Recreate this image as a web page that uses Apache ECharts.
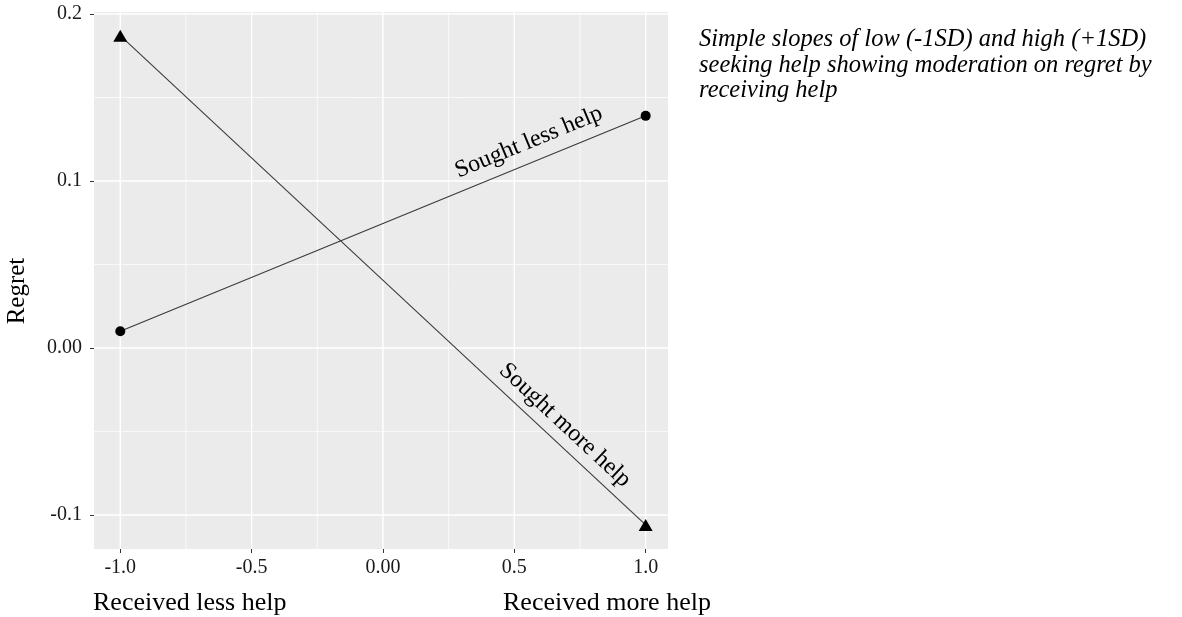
<!DOCTYPE html>
<html><head><meta charset="utf-8">
<script src="https://cdn.jsdelivr.net/npm/echarts@6/dist/echarts.min.js"></script>
<style>html,body{margin:0;padding:0;background:#fff}#c{width:1182px;height:617px}</style>
</head><body><div id="c"></div>
<script>
// ---- data ----
const received = [-1, 1];
const soughtLess = [0.010, 0.139];
const soughtMore = [0.187, -0.106];
const xTicks = [-1, -0.5, 0, 0.5, 1];
const xTickLabels = ['-1.0', '-0.5', '0.00', '0.5', '1.0'];
const yTicks = [-0.1, 0, 0.1, 0.2];
const yTickLabels = ['-0.1', '0.00', '0.1', '0.2'];
const xMinor = [-0.75, -0.25, 0.25, 0.75];
const yMinor = [-0.05, 0.05, 0.15];
const seriesNames = ['Sought less help', 'Sought more help'];
const yTitle = 'Regret';
const xLowLabel = 'Received less help';
const xHighLabel = 'Received more help';
const captionLines = [
  'Simple slopes of low (-1SD) and high (+1SD)',
  'seeking help showing moderation on regret by',
  'receiving help'
];

const SERIF = '"Liberation Serif", "Times New Roman", "DejaVu Serif", serif';
const X_MIN = -1.1, X_MAX = 1.085, Y_MIN = -0.1204, Y_MAX = 0.2012;
function fmt(ticks, labels) {
  return v => {
    for (let i = 0; i < ticks.length; i++) if (Math.abs(ticks[i] - v) < 1e-6) return labels[i];
    return '';
  };
}
function gridSeries(vals, vertical, width) {
  return vals.map(v => ({
    type: 'line', silent: true, z: 1, symbol: 'none', animation: false,
    data: vertical ? [[v, Y_MIN], [v, Y_MAX]] : [[X_MIN, v], [X_MAX, v]],
    lineStyle: {color: '#FFFFFF', width: width},
    emphasis: {disabled: true}, tooltip: {show: false}
  }));
}

const chart = echarts.init(document.getElementById('c'), null, {renderer: 'canvas'});
const option = {
  animation: false,
  backgroundColor: '#FFFFFF',
  grid: {left: 94, right: 514, top: 12, bottom: 68, show: true, backgroundColor: '#EBEBEB', borderWidth: 0, containLabel: false},
  xAxis: {
    type: 'value', min: X_MIN, max: X_MAX, position: 'bottom',
    axisLine: {show: false, onZero: false},
    axisTick: {show: true, customValues: xTicks, length: 4, lineStyle: {color: '#333333', width: 1}},
    axisLabel: {show: true, customValues: xTicks, formatter: fmt(xTicks, xTickLabels), fontFamily: SERIF, fontSize: 20, color: '#1a1a1a', margin: 9},
    splitLine: {show: false}
  },
  yAxis: {
    type: 'value', min: Y_MIN, max: Y_MAX, position: 'left',
    axisLine: {show: false, onZero: false},
    axisTick: {show: true, customValues: yTicks, length: 4, lineStyle: {color: '#333333', width: 1}},
    axisLabel: {show: true, customValues: yTicks, formatter: fmt(yTicks, yTickLabels), fontFamily: SERIF, fontSize: 20, color: '#1a1a1a', margin: 12},
    splitLine: {show: false}
  },
  series: [
    ...gridSeries(xMinor, true, 0.7),
    ...gridSeries(yMinor, false, 0.7),
    ...gridSeries(xTicks, true, 1.4),
    ...gridSeries(yTicks, false, 1.4),
    {
      type: 'line', name: seriesNames[0], z: 3,
      data: received.map((x, i) => [x, soughtLess[i]]),
      symbol: 'circle', symbolSize: 10,
      itemStyle: {color: '#000000'},
      lineStyle: {color: '#3a3a3a', width: 1.1}
    },
    {
      type: 'line', name: seriesNames[1], z: 3,
      data: received.map((x, i) => [x, soughtMore[i]]),
      symbol: 'triangle', symbolSize: [14, 12],
      itemStyle: {color: '#000000'},
      lineStyle: {color: '#3a3a3a', width: 1.1}
    }
  ]
};
chart.setOption(option);

// line labels placed along each line, using the chart's own scales
function lineLabel(name, ys, xAnchor, dist) {
  const p1 = chart.convertToPixel({gridIndex: 0}, [received[0], ys[0]]);
  const p2 = chart.convertToPixel({gridIndex: 0}, [received[1], ys[1]]);
  const a = Math.atan2(-(p2[1] - p1[1]), p2[0] - p1[0]);
  const t = (xAnchor - received[0]) / (received[1] - received[0]);
  const ax = p1[0] + t * (p2[0] - p1[0]);
  const ay = p1[1] + t * (p2[1] - p1[1]);
  return {
    type: 'text', x: ax - dist * Math.sin(a), y: ay - dist * Math.cos(a), rotation: a, z: 10,
    style: {text: name, font: '24px ' + SERIF, fill: '#000', align: 'center', verticalAlign: 'middle'}
  };
}
const graphics = [
  lineLabel(seriesNames[0], soughtLess, 0.584, 20),
  lineLabel(seriesNames[1], soughtMore, 0.646, 18),
  {type: 'text', x: 17, y: 291, rotation: Math.PI / 2, style: {text: yTitle, font: '25px ' + SERIF, fill: '#000', align: 'center', verticalAlign: 'middle'}},
  {type: 'text', x: 93, y: 603, style: {text: xLowLabel, font: '26px ' + SERIF, fill: '#000', align: 'left', verticalAlign: 'middle'}},
  {type: 'text', x: 503, y: 603, style: {text: xHighLabel, font: '26px ' + SERIF, fill: '#000', align: 'left', verticalAlign: 'middle'}}
];
captionLines.forEach((s, i) => graphics.push({
  type: 'text', x: 699, y: 40 + i * 25.5,
  style: {text: s, font: 'italic 24.5px ' + SERIF, fill: '#000', align: 'left', verticalAlign: 'middle'}
}));
chart.setOption({graphic: graphics});
</script>
</body></html>
